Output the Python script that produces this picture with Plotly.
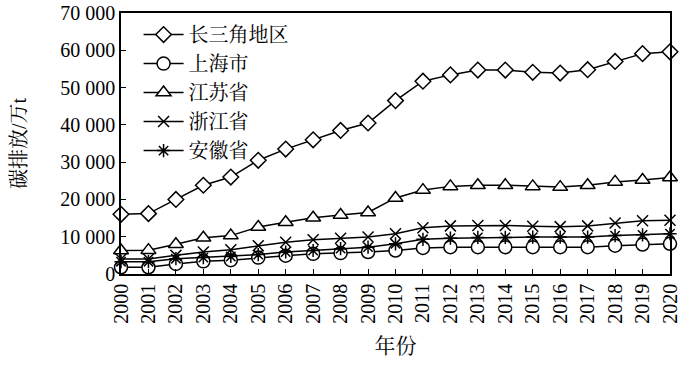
import plotly.graph_objects as go

years = list(range(2000, 2021))
yrd = [16000, 16200, 20000, 23800, 26000, 30500, 33500, 36000, 38500, 40500, 46500,
       51700, 53400, 54700, 54700, 54100, 53900, 54800, 57000, 59100, 59600]
shanghai = [1800, 1800, 2700, 3400, 3700, 4400, 4900, 5400, 5600, 5900, 6300,
            7000, 7200, 7200, 7200, 7200, 7200, 7200, 7600, 7900, 8100]
jiangsu = [6300, 6400, 8000, 9700, 10300, 12600, 13900, 15100, 15800, 16500, 20400,
           22500, 23500, 23800, 23800, 23500, 23300, 23800, 24700, 25200, 25900]
zhejiang = [4000, 4000, 5000, 5900, 6500, 7600, 8500, 9200, 9600, 9900, 10800,
            12400, 12900, 13000, 13000, 12800, 12700, 12900, 13700, 14300, 14400]
anhui = [3300, 3300, 4100, 4400, 4700, 5200, 5900, 6300, 6800, 7200, 8100,
         9300, 9600, 9800, 9800, 9900, 9900, 9900, 10300, 10500, 10800]

names = ["长三角地区", "上海市", "江苏省", "浙江省", "安徽省"]
series = [yrd, shanghai, jiangsu, zhejiang, anhui]
symbols = ["diamond", "circle", "triangle-up", "x-thin", "asterisk"]
sizes = [12, 13, 13, 11, 11]

FONT = "Liberation Serif, 'Noto Serif CJK SC', 'Noto Sans CJK SC', serif"

fig = go.Figure()
for name, vals, sym, sz in zip(names, series, symbols, sizes):
    fig.add_trace(go.Scatter(
        x=years, y=vals, name=name, mode="lines+markers",
        line=dict(color="black", width=1.5),
        marker=dict(symbol=sym, size=sz, color="white",
                    line=dict(color="black", width=1.5)),
        cliponaxis=False,
    ))

fig.update_layout(
    width=700, height=367,
    margin=dict(l=121, r=30, t=13, b=93, autoexpand=False),
    paper_bgcolor="white", plot_bgcolor="white",
    font=dict(family=FONT, size=20, color="black"),
    separators=". ",
    showlegend=True,
    legend=dict(x=0.032, y=0.992, xanchor="left", yanchor="top",
                bgcolor="rgba(0,0,0,0)", font=dict(size=20),
                itemwidth=40, tracegroupgap=0),
    xaxis=dict(
        range=[2000, 2020], tickmode="array", tickvals=years,
        ticktext=[str(y) for y in years], tickangle=-90,
        ticks="inside", ticklen=5, tickcolor="black",
        showline=True, linecolor="black", linewidth=1.5, mirror=True,
        showgrid=False, zeroline=False, automargin=False,
        title=dict(text="年份", font=dict(size=21), standoff=16),
    ),
    yaxis=dict(
        range=[0, 70000], dtick=10000, tickformat=",d",
        ticks="inside", ticklen=5, tickcolor="black",
        showline=True, linecolor="black", linewidth=1.5, mirror=True,
        showgrid=False, zeroline=False, automargin=False,
        title=dict(text="碳排放/万t", font=dict(size=20), standoff=28),
    ),
)

fig.write_html("out.html", config={"displayModeBar": False},
               post_script="document.body.style.margin='0';")
